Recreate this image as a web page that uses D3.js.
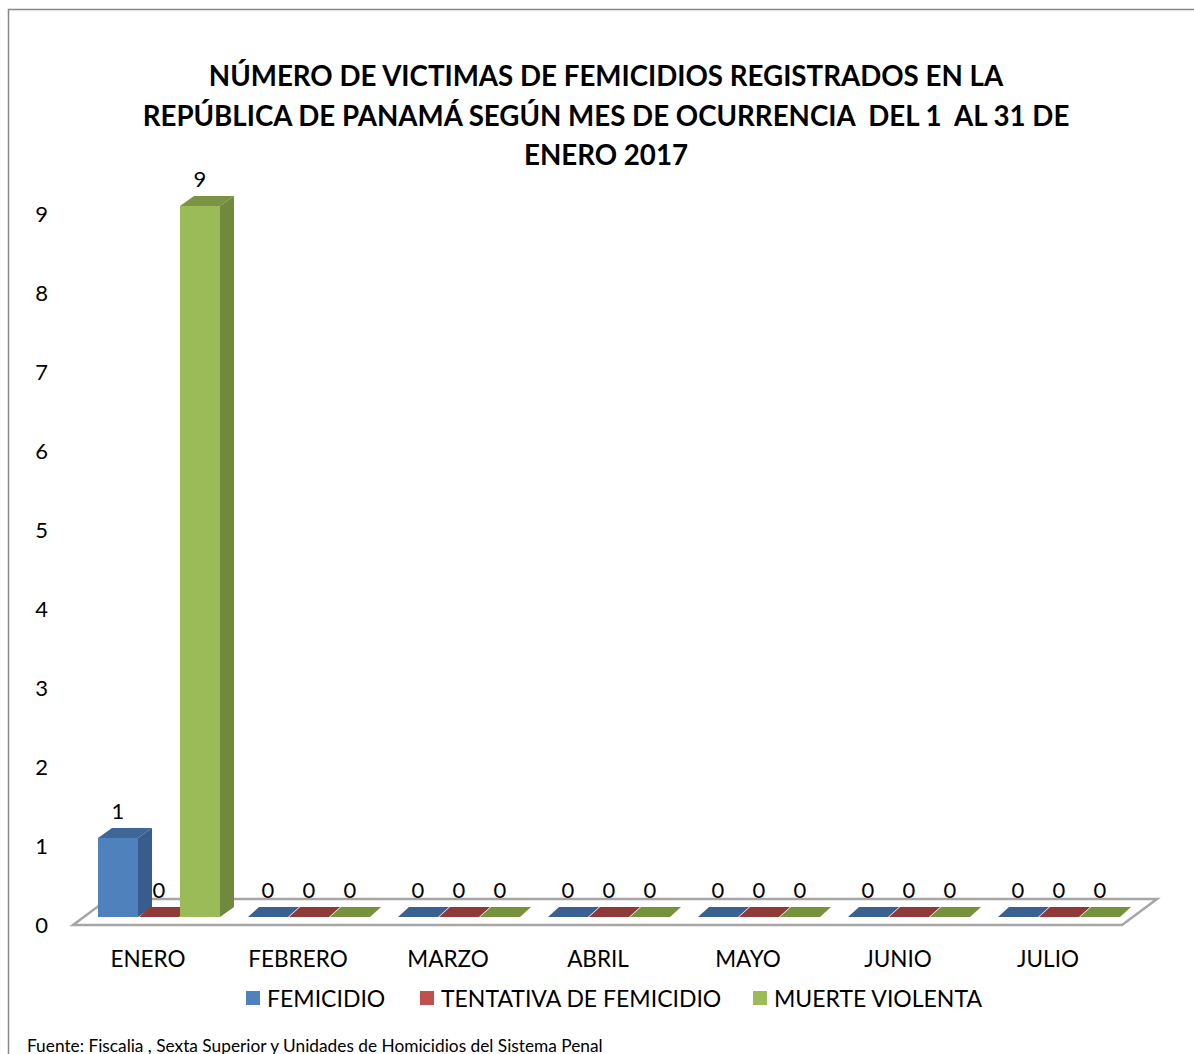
<!DOCTYPE html>
<html>
<head>
<meta charset="utf-8">
<script src="https://cdn.jsdelivr.net/npm/d3@7"></script>
<style>
  body { margin: 0; background: #fff; }
  text { font-family: Lato, "Open Sans", sans-serif; fill: #000; }
</style>
</head>
<body>
<svg id="chart" width="1194" height="1054"></svg>
<script>
const months = ["ENERO", "FEBRERO", "MARZO", "ABRIL", "MAYO", "JUNIO", "JULIO"];
const seriesNames = ["FEMICIDIO", "TENTATIVA DE FEMICIDIO", "MUERTE VIOLENTA"];
const femicidio = [1, 0, 0, 0, 0, 0, 0];
const tentativa = [0, 0, 0, 0, 0, 0, 0];
const muerteViolenta = [9, 0, 0, 0, 0, 0, 0];
const yTicks = [0, 1, 2, 3, 4, 5, 6, 7, 8, 9];
const titleLines = [
  "NÚMERO DE VICTIMAS DE FEMICIDIOS REGISTRADOS EN LA",
  "REPÚBLICA DE PANAMÁ SEGÚN MES DE OCURRENCIA  DEL 1  AL 31 DE",
  "ENERO 2017"
];
const source = "Fuente: Fiscalia , Sexta Superior y Unidades de Homicidios del Sistema Penal";

// colores: frente, lado, arriba, plano (valor cero)
const colors = [
  { front: "#4f81bd", side: "#385d8a", top: "#3e6797", flat: "#3a6190" },
  { front: "#c0504d", side: "#8c3836", top: "#9a3d3a", flat: "#8e3a38" },
  { front: "#9bbb59", side: "#71893f", top: "#7a9444", flat: "#76923c" }
];
const seriesData = [femicidio, tentativa, muerteViolenta];

const svg = d3.select("#chart");

// marco del gráfico
svg.append("path")
  .attr("d", "M8.5,1054 L8.5,9.5 L1194,9.5")
  .attr("fill", "none")
  .attr("stroke", "#878787")
  .attr("stroke-width", 1.5);

// título
svg.append("g").selectAll("text")
  .data(titleLines)
  .join("text")
  .attr("x", 606)
  .attr("y", (d, i) => 86 + i * 39.5)
  .attr("text-anchor", "middle")
  .attr("font-size", 27.7)
  .attr("font-weight", "bold")
  .style("white-space", "pre")
  .text(d => d);

const x = d3.scaleBand().domain(months).range([98, 1148]).padding(0);
const xs = d3.scaleBand().domain(d3.range(3)).range([0, 123]).padding(0);
const y = d3.scaleLinear().domain([0, 9]).range([917, 206]);
const yAxisScale = d3.scaleLinear().domain([0, 9]).range([925, 214]);
const dx = 14, dy = 10;

// piso
const floor = [[73, 925], [108, 899], [1157, 899], [1122, 925]];
svg.append("path")
  .attr("d", d3.line()(floor) + "Z")
  .attr("fill", "#fff")
  .attr("stroke", "#a6a6a6")
  .attr("stroke-width", 2.5);

// eje Y
const yAxis = svg.append("g")
  .attr("transform", "translate(48,0)")
  .call(d3.axisLeft(yAxisScale).tickValues(yTicks).tickSize(0).tickPadding(0));
yAxis.select(".domain").remove();
yAxis.selectAll("text")
  .attr("font-size", 22)
  .attr("font-family", "Lato, 'Open Sans', sans-serif");

// barras
const bars = [];
months.forEach((m, i) => {
  seriesData.forEach((s, k) => {
    bars.push({ month: m, series: k, value: s[i] });
  });
});

const barW = xs.bandwidth() - 1;
const g = svg.append("g");
bars.forEach(b => {
  const x0 = x(b.month) + xs(b.series);
  const x1 = x0 + barW;
  const y0 = y(0);
  const yt = y(b.value);
  const c = colors[b.series];
  if (b.value === 0) {
    g.append("path")
      .attr("d", d3.line()([[x0, y0], [x0 + dx - 3, y0 - dy], [x1 + dx - 3, y0 - dy], [x1, y0]]) + "Z")
      .attr("fill", c.flat);
  } else {
    g.append("path")
      .attr("d", d3.line()([[x1, yt], [x1 + dx, yt - dy], [x1 + dx, y0 - dy], [x1, y0]]) + "Z")
      .attr("fill", c.side);
    g.append("path")
      .attr("d", d3.line()([[x0, yt], [x0 + dx, yt - dy], [x1 + dx, yt - dy], [x1, yt]]) + "Z")
      .attr("fill", c.top);
    g.append("rect")
      .attr("x", x0).attr("y", yt)
      .attr("width", barW).attr("height", y0 - yt)
      .attr("fill", c.front);
  }
  g.append("text")
    .attr("x", (x0 + x1) / 2)
    .attr("y", yt - 19)
    .attr("text-anchor", "middle")
    .attr("font-size", 22)
    .text(b.value);
});

// etiquetas de meses
svg.append("g").selectAll("text")
  .data(months)
  .join("text")
  .attr("x", d => x(d) + 50)
  .attr("y", 967)
  .attr("text-anchor", "middle")
  .attr("font-size", 22.5)
  .text(d => d);

// leyenda
const legendX = [246, 420, 753];
const legend = svg.append("g").selectAll("g")
  .data(seriesNames)
  .join("g")
  .attr("transform", (d, i) => `translate(${legendX[i]},991)`);
legend.append("rect")
  .attr("width", 14).attr("height", 14)
  .attr("fill", (d, i) => colors[i].front);
legend.append("text")
  .attr("x", 21)
  .attr("y", 16)
  .attr("font-size", 23)
  .text(d => d);

// fuente
svg.append("text")
  .attr("x", 27)
  .attr("y", 1052)
  .attr("font-size", 17.3)
  .text(source);
</script>
</body>
</html>
